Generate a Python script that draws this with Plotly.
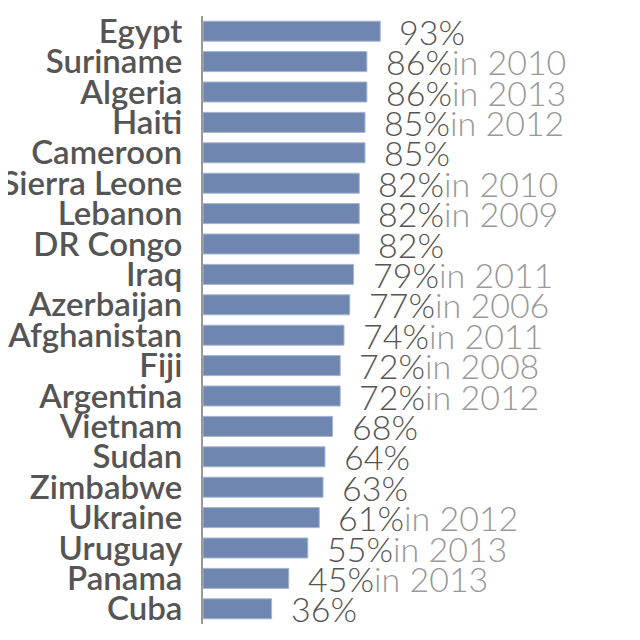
import plotly.graph_objects as go

countries = [
    "Egypt", "Suriname", "Algeria", "Haiti", "Cameroon", "Sierra Leone",
    "Lebanon", "DR Congo", "Iraq", "Azerbaijan", "Afghanistan", "Fiji",
    "Argentina", "Vietnam", "Sudan", "Zimbabwe", "Ukraine", "Uruguay",
    "Panama", "Cuba",
]
values = [93, 86, 86, 85, 85, 82, 82, 82, 79, 77, 74, 72, 72, 68, 64, 63, 61, 55, 45, 36]
years = [
    None, 2010, 2013, 2012, None, 2010, 2009, None, 2011, 2006, 2011, 2008,
    2012, None, None, None, 2012, 2013, 2013, None,
]

BAR_COLOR = "#6e86b0"
DARK = "#555555"
LIGHT = "#999999"

fig = go.Figure()
fig.add_trace(go.Bar(
    x=values,
    y=countries,
    orientation="h",
    marker=dict(color=BAR_COLOR, line=dict(color="#a8b7d2", width=1)),
    hoverinfo="skip",
))

# value labels: percentage in dark grey, survey year in light grey
for c, v, yr in zip(countries, values, years):
    txt = f"<span style='color:{DARK}'>{v}%</span>"
    if yr is not None:
        txt += f"<span style='color:{LIGHT}'>in {yr}</span>"
    fig.add_annotation(
        x=v, y=c, xref="x", yref="y",
        text=txt, showarrow=False,
        xanchor="left", yanchor="middle",
        xshift=17,
        font=dict(family="Lato", size=34, color=DARK, weight=300),
    )

fig.update_layout(
    width=640,
    height=640,
    margin=dict(l=195, r=20, t=8, b=24),
    plot_bgcolor="white",
    paper_bgcolor="white",
    bargap=0.34,
    showlegend=False,
    xaxis=dict(
        range=[0, 223],
        visible=False,
        fixedrange=True,
    ),
    yaxis=dict(
        categoryorder="array",
        categoryarray=countries[::-1],
        tickmode="array",
        tickvals=countries,
        ticktext=countries,
        autorange=False,
        range=[-0.5, len(countries) - 0.5],
        showline=True,
        linecolor="#999999",
        linewidth=2,
        showgrid=False,
        ticks="",
        ticklabelstandoff=12,
        automargin=False,
        tickfont=dict(family="Lato", size=33, color=DARK, weight=600),
    ),
)

fig.write_html("out.html")
